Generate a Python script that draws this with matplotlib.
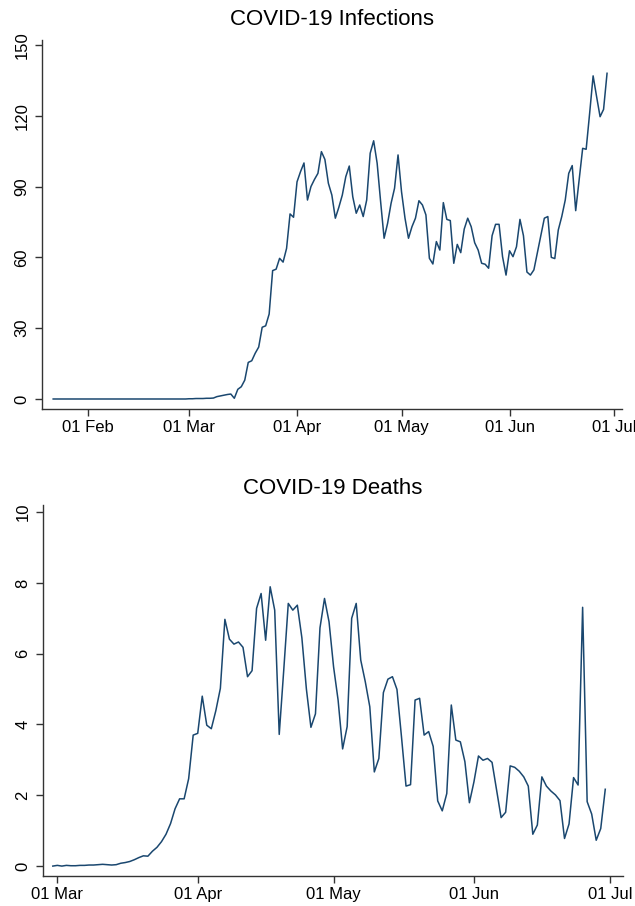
import datetime as dt
import matplotlib
matplotlib.use("Agg")
import matplotlib.pyplot as plt
import matplotlib.dates as mdates

plt.rcParams['font.family'] = ['Liberation Sans', 'DejaVu Sans']

# daily new infections, 22 Jan - 29 Jun
infections = [0.0] * 39 + [
    0.1, 0.1, 0.2, 0.2, 0.2, 0.3, 0.3, 0.4, 1.0, 1.3,
    1.6, 1.9, 2.1, 0.3,
    4.1, 5.2, 8.0, 15.5, 16.2, 19.4, 22.0, 30.4, 31.0, 36.0,
    54.4, 55.0, 59.6, 58.0, 63.8, 78.4, 77.0, 92.0, 96.3, 100.0,
    84.3, 90.0, 93.0, 95.6, 104.8, 101.5, 91.4, 86.4, 76.6, 81.2,
    86.4, 94.2, 98.7, 85.7, 78.7, 82.2, 77.3, 84.3, 104.1, 109.4,
    99.9, 83.6, 68.1, 74.4, 82.9, 89.3, 103.4, 87.8, 76.6, 68.1,
    73.0, 76.6, 84.0, 82.2, 78.0, 59.6, 57.2, 66.7, 63.1, 83.2,
    76.1, 75.6, 57.5, 65.5, 62.0, 72.0, 76.6, 73.0, 66.2, 63.1,
    57.5, 57.1, 55.4, 69.2, 74.0, 74.0, 60.3, 52.5, 62.8, 60.3,
    64.5, 76.1, 69.2, 53.8, 52.5, 54.7, 62.0, 69.2, 76.6, 77.3,
    60.0, 59.5, 71.6, 77.3, 84.3, 95.6, 98.9, 79.8, 92.8, 106.2,
    105.8, 121.0, 136.9, 128.1, 119.6, 122.7, 138.0,
]
inf_start = dt.date(2020, 1, 22)

# daily deaths, 29 Feb - 30 Jun
deaths = [
    0.0, 0.02, 0.0, 0.02, 0.01, 0.01, 0.02, 0.02, 0.03, 0.03,
    0.04, 0.05, 0.04, 0.03, 0.04, 0.08, 0.10, 0.13, 0.18, 0.24,
    0.29, 0.28, 0.42, 0.53, 0.69, 0.90, 1.20, 1.62, 1.90, 1.90,
    2.47, 3.70, 3.75, 4.80, 3.98, 3.88, 4.39, 5.02, 6.97, 6.41,
    6.27, 6.33, 6.18, 5.35, 5.52, 7.28, 7.70, 6.38, 7.89, 7.23,
    3.72, 5.54, 7.42, 7.23, 7.37, 6.45, 5.00, 3.92, 4.30, 6.73,
    7.56, 6.90, 5.63, 4.69, 3.31, 3.94, 7.00, 7.42, 5.82, 5.21,
    4.50, 2.66, 3.04, 4.90, 5.28, 5.35, 4.99, 3.65, 2.26, 2.30,
    4.69, 4.74, 3.70, 3.80, 3.38, 1.84, 1.56, 2.05, 4.55, 3.56,
    3.51, 2.95, 1.79, 2.38, 3.11, 2.99, 3.04, 2.93, 2.15, 1.37,
    1.52, 2.83, 2.79, 2.68, 2.52, 2.26, 0.90, 1.16, 2.52, 2.26,
    2.12, 2.01, 1.85, 0.78, 1.19, 2.50, 2.29, 7.31, 1.82, 1.47,
    0.73, 1.06, 2.17,
]
dth_start = dt.date(2020, 2, 29)

inf_ticks = [0, 30, 60, 90, 120, 150]
dth_ticks = [0, 2, 4, 6, 8, 10]

inf_dates = [inf_start + dt.timedelta(days=k) for k in range(len(infections))]
dth_dates = [dth_start + dt.timedelta(days=k) for k in range(len(deaths))]

navy = "#1a476f"
axis_col = "#333333"

fig = plt.figure(figsize=(6.35, 9.06), dpi=100)
ax1 = fig.add_axes([42/635, 1 - 409/906, 580/635, 369/906])
ax2 = fig.add_axes([43/635, 1 - 876/906, 580/635, 371/906])

panels = [
    (ax1, inf_dates, infections, "COVID-19 Infections", inf_ticks, 11,
     (-4.24, 152.1), (dt.datetime(2020, 1, 18, 19), dt.datetime(2020, 7, 3, 7)),
     [dt.date(2020, m, 1) for m in range(2, 8)]),
    (ax2, dth_dates, deaths, "COVID-19 Deaths", dth_ticks, 8,
     (-0.28, 10.2), (dt.datetime(2020, 2, 26, 20), dt.datetime(2020, 7, 3, 22)),
     [dt.date(2020, m, 1) for m in range(3, 8)]),
]

for ax, dates, vals, title, yt, tpad, ylim, xlim, xt in panels:
    ax.plot(dates, vals, color=navy, lw=1.1)
    ax.set_title(title, fontsize=16, pad=tpad)
    ax.set_ylim(*ylim)
    ax.set_xlim(*xlim)
    ax.set_yticks(yt)
    ax.set_yticklabels([str(t) for t in yt], rotation=90, va="center")
    ax.set_xticks(xt)
    ax.xaxis.set_major_formatter(mdates.DateFormatter("%d %b"))
    for s in ["top", "right"]:
        ax.spines[s].set_visible(False)
    for s in ["left", "bottom"]:
        ax.spines[s].set_color(axis_col)
        ax.spines[s].set_linewidth(1.0)
    ax.tick_params(colors=axis_col, labelcolor="black", labelsize=12,
                   length=5, width=1.0, direction="out")
    ax.tick_params(axis="y", pad=4)
    ax.tick_params(axis="x", pad=3)

fig.savefig("out.png", dpi=100, facecolor="white")
